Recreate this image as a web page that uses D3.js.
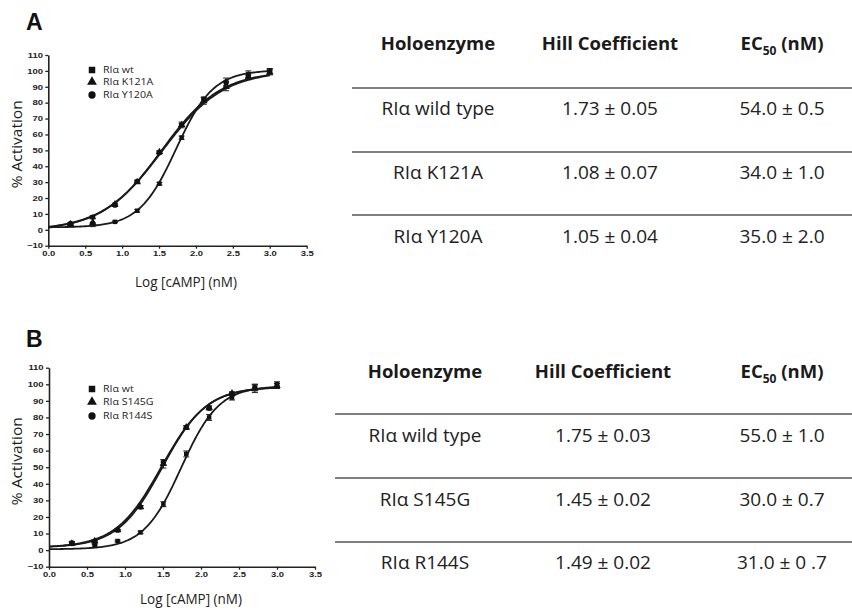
<!DOCTYPE html>
<html>
<head>
<meta charset="utf-8">
<script src="https://cdn.jsdelivr.net/npm/d3@7"></script>
<style>
  body { margin: 0; background: #fff; }
  svg { display: block; }
  .tick text { font-family: Arial, "Liberation Sans", sans-serif; font-weight: bold; font-size: 7px; fill: #222; }
</style>
</head>
<body>
<div id="chart"></div>
<script>
"use strict";

// log [cAMP] (nM) used in both panels
var logConc = [0.301, 0.602, 0.903, 1.204, 1.505, 1.806, 2.107, 2.408, 2.709, 3.0];
var xTicks = [0, 0.5, 1, 1.5, 2, 2.5, 3, 3.5];
var yTicks = [-10, 0, 10, 20, 30, 40, 50, 60, 70, 80, 90, 100, 110];

// panel A
var namesA = ["RIα wt", "RIα K121A", "RIα Y120A"];
var wtA = [3, 4, 5, 12, 29, 58, 82, 92, 98, 100];
var k121aA = [3.5, 4.5, 16, 30, 49, 66, 81, 90, 96, 99];
var y120aA = [4, 8, 15.5, 30.5, 48.5, 66, 82, 93, 97, 99.5];
var wtErrA = [0.5, 0.5, 0.5, 0.8, 0.8, 1, 1.5, 1.5, 2, 1.5];
var k121aErrA = [0.8, 2.5, 0.8, 0.8, 0.8, 1, 2, 2.5, 1.5, 1.5];
var y120aErrA = [0.5, 1, 0.8, 0.8, 0.8, 1.8, 1.5, 2.5, 1.5, 1.5];

// panel B
var namesB = ["RIα wt", "RIα S145G", "RIα R144S"];
var wtB = [4.4, 3, 5.5, 10.7, 27.7, 58, 80, 92, 98, 100];
var s145gB = [4, 5.5, 12, 26, 52, 74, 86, 94.5, 97.5, 99];
var r144sB = [4, 5, 12, 26, 53, 74, 85.5, 94, 98, 99];
var wtErrB = [0.8, 0.5, 0.5, 0.8, 1.5, 1.8, 1.8, 1.5, 2, 1.5];
var s145gErrB = [0.8, 0.8, 0.5, 0.8, 2.5, 1, 1, 1, 2.5, 1.5];
var r144sErrB = [0.8, 0.8, 0.5, 0.8, 1.5, 1, 1, 1, 1.5, 1.5];

// fitted Hill parameters (from tables) and plateaus
var hillA = [1.73, 1.08, 1.05];
var ec50A = [54.0, 34.0, 35.0];
var bottomA = [1.5, -0.5, -0.5];
var topA = [100.5, 100, 100];
var hillB = [1.75, 1.45, 1.49];
var ec50B = [55.0, 30.0, 31.0];
var bottomB = [0.5, 1.5, 1.5];
var topB = [99, 98.5, 98.5];

// table texts
var tableHeads = ["Holoenzyme", "Hill Coefficient", "EC"];
var rowsA = ["RIα wild type", "RIα K121A", "RIα Y120A"];
var hillTextA = ["1.73 ± 0.05", "1.08 ± 0.07", "1.05 ± 0.04"];
var ec50TextA = ["54.0 ± 0.5", "34.0 ± 1.0", "35.0 ± 2.0"];
var rowsB = ["RIα wild type", "RIα S145G", "RIα R144S"];
var hillTextB = ["1.75 ± 0.03", "1.45 ± 0.02", "1.49 ± 0.02"];
var ec50TextB = ["55.0 ± 1.0", "30.0 ± 0.7", "31.0 ± 0 .7"];

var svg = d3.select("#chart").append("svg")
        .attr("width", 852)
        .attr("height", 610);

var symbols = [d3.symbolSquare, d3.symbolTriangle, d3.symbolCircle];
var symSizes = [20, 24, 22];

function hill(x, bottom, top, ec50, n) {
        var c = Math.pow(10, x);
        var r = Math.pow(c / ec50, n);
        return bottom + (top - bottom) * r / (1 + r);
}

function drawPanel(p) {
        var x = d3.scaleLinear().domain([0, 3.5]).range([p.left, p.right]);
        var y = d3.scaleLinear().domain([-10, 110]).range([p.bottom, p.top]);
        var g = svg.append("g");

        // panel letter
        g.append("text").text(p.letter)
                .attr("x", 26).attr("y", p.letterY)
                .style("font-family", "Arial, 'Liberation Sans', sans-serif")
                .style("font-weight", "bold")
                .style("font-size", "23px")
                .style("fill", "#111");

        // axes
        var yAxis = g.append("g")
                .attr("transform", "translate(" + p.left + ",0)")
                .call(d3.axisLeft(y).tickValues(yTicks).tickSize(3).tickPadding(1).tickSizeOuter(0));
        var xAxis = g.append("g")
                .attr("transform", "translate(0," + p.bottom + ")")
                .call(d3.axisBottom(x).tickValues(xTicks).tickFormat(d3.format(".1f")).tickSize(3).tickPadding(1).tickSizeOuter(0));
        [xAxis, yAxis].forEach(function (a) {
                a.select(".domain").attr("stroke", "#222").attr("stroke-width", 1.6);
                a.selectAll(".tick line").attr("stroke", "#222").attr("stroke-width", 1.3);
                a.selectAll(".tick text").attr("transform", "scale(1.35,1)");
        });
        xAxis.selectAll(".tick text").attr("dy", "0.9em");

        g.append("text").text("% Activation")
                .attr("transform", "translate(" + 22 + "," + ((p.top + p.bottom) / 2 - 6) + ") rotate(-90)")
                .attr("text-anchor", "middle")
                .attr("textLength", 88)
                .attr("lengthAdjust", "spacingAndGlyphs")
                .style("font-family", "'Open Sans', sans-serif")
                .style("font-size", "14.5px")
                .style("fill", "#222");
        g.append("text").text("Log [cAMP] (nM)")
                .attr("x", p.xLabelX)
                .attr("y", p.xLabelY)
                .attr("text-anchor", "middle")
                .attr("textLength", 102)
                .attr("lengthAdjust", "spacingAndGlyphs")
                .style("font-family", "'Open Sans', sans-serif")
                .style("font-size", "14.5px")
                .style("fill", "#222");

        // fitted curves
        var xs = d3.range(0, 3.001, 0.02);
        var line = d3.line()
                .x(function (d) { return x(d[0]); })
                .y(function (d) { return y(d[1]); });
        p.series.forEach(function (s, i) {
                var pts = xs.map(function (v) {
                        return [v, hill(v, p.bottoms[i], p.tops[i], p.ec50[i], p.hill[i])];
                });
                g.append("path").datum(pts)
                        .attr("d", line)
                        .attr("fill", "none")
                        .attr("stroke", "#1a1a1a")
                        .attr("stroke-width", 1.8);
        });

        // error bars and points
        p.series.forEach(function (s, i) {
                var errs = p.errs[i];
                var eb = g.append("g");
                logConc.forEach(function (c, j) {
                        var cx = x(c), y1 = y(s[j] + errs[j]), y2 = y(s[j] - errs[j]);
                        eb.append("line").attr("x1", cx).attr("x2", cx).attr("y1", y1).attr("y2", y2)
                                .attr("stroke", "#222").attr("stroke-width", 1);
                        [y1, y2].forEach(function (yy) {
                                eb.append("line").attr("x1", cx - 3).attr("x2", cx + 3).attr("y1", yy).attr("y2", yy)
                                        .attr("stroke", "#222").attr("stroke-width", 1);
                        });
                });
                g.selectAll(null)
                        .data(s)
                        .enter()
                        .append("path")
                        .attr("d", d3.symbol().type(symbols[i]).size(symSizes[i]))
                        .attr("transform", function (d, j) { return "translate(" + x(logConc[j]) + "," + y(d) + ")"; })
                        .attr("fill", "#111");
        });

        // legend
        p.names.forEach(function (n, i) {
                var ly = p.legendY[i];
                g.append("path")
                        .attr("d", d3.symbol().type(symbols[i]).size(42))
                        .attr("transform", "translate(" + 92 + "," + ly + ")")
                        .attr("fill", "#111");
                g.append("text").text(n)
                        .attr("transform", "translate(103," + ly + ") scale(1.12,1)")
                        .attr("dy", "0.35em")
                        .style("font-family", "'Open Sans', sans-serif")
                        .style("font-size", "9.5px")
                        .style("fill", "#222");
        });
}

function drawTable(t) {
        var g = svg.append("g");
        var font = "'Open Sans', sans-serif";
        var cols = t.cols;
        // header
        tableHeads.forEach(function (h, i) {
                var txt = g.append("text")
                        .attr("x", cols[i]).attr("y", t.headY)
                        .attr("dy", "0.35em")
                        .attr("text-anchor", "middle")
                        .style("font-family", font)
                        .style("font-weight", "bold")
                        .style("font-size", "18.5px")
                        .style("fill", "#1a1a1a");
                txt.append("tspan").text(h);
                if (i == 2) {
                        txt.append("tspan").text("50").attr("dy", "5").style("font-size", "12px");
                        txt.append("tspan").text(" (nM)").attr("dy", "-5");
                }
        });
        // rules
        t.lineYs.forEach(function (ly) {
                g.append("line")
                        .attr("x1", t.lineX).attr("x2", 852)
                        .attr("y1", ly).attr("y2", ly)
                        .attr("stroke", "#555").attr("stroke-width", 1.4);
        });
        // rows
        t.rows.forEach(function (r, i) {
                [r, t.hillText[i], t.ecText[i]].forEach(function (v, k) {
                        g.append("text").text(v)
                                .attr("x", cols[k]).attr("y", t.rowYs[i])
                                .attr("dy", "0.35em")
                                .attr("text-anchor", "middle")
                                .style("font-family", font)
                                .style("font-size", "19px")
                                .style("fill", "#222");
                });
        });
}

drawPanel({
        letter: "A", letterY: 30,
        left: 48.3, right: 306.7, top: 55, bottom: 245.7, xLabelX: 186, xLabelY: 287,
        series: [wtA, k121aA, y120aA],
        errs: [wtErrA, k121aErrA, y120aErrA],
        names: namesA, legendY: [70, 82, 95],
        hill: hillA, ec50: ec50A, bottoms: bottomA, tops: topA
});
drawPanel({
        letter: "B", letterY: 347,
        left: 49, right: 315, top: 367.7, bottom: 566.7, xLabelX: 191, xLabelY: 604,
        series: [wtB, s145gB, r144sB],
        errs: [wtErrB, s145gErrB, r144sErrB],
        names: namesB, legendY: [389, 402, 416],
        hill: hillB, ec50: ec50B, bottoms: bottomB, tops: topB
});

drawTable({
        cols: [438, 610, 782], headY: 44, lineX: 352,
        lineYs: [88, 152, 215], rowYs: [108, 172, 236],
        rows: rowsA, hillText: hillTextA, ecText: ec50TextA
});
drawTable({
        cols: [425, 603, 782], headY: 372, lineX: 335,
        lineYs: [414, 478, 542], rowYs: [435, 499, 562],
        rows: rowsB, hillText: hillTextB, ecText: ec50TextB
});
</script>
</body>
</html>
